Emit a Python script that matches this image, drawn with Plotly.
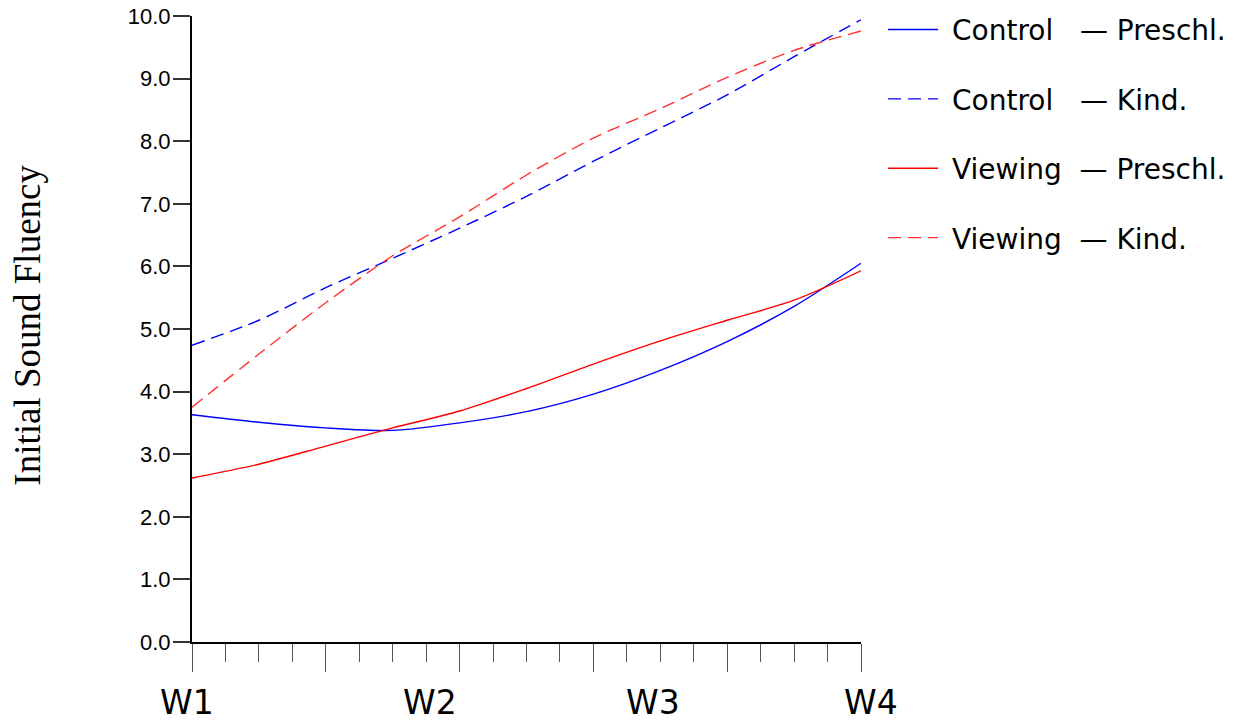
import plotly.graph_objects as go

# ---- data ----
weeks = [1.0, 1.3, 1.6, 1.9, 2.2, 2.5, 2.8, 3.1, 3.4, 3.7, 4.0]
control_preschl = [3.63, 3.51, 3.42, 3.38, 3.50, 3.68, 3.96, 4.34, 4.80, 5.36, 6.05]
control_kind = [4.74, 5.14, 5.66, 6.13, 6.61, 7.12, 7.68, 8.21, 8.74, 9.35, 9.94]
viewing_preschl = [2.62, 2.84, 3.13, 3.42, 3.69, 4.05, 4.44, 4.81, 5.14, 5.46, 5.93]
viewing_kind = [3.75, 4.60, 5.42, 6.17, 6.79, 7.46, 8.05, 8.52, 9.02, 9.45, 9.76]

# legend texts (dash aligned in a column, as in the reference)
NB = "\u00a0"
series_names = [
    NB + "Control" + NB * 3 + "\u2014" + NB + "Preschl.",
    NB + "Control" + NB * 3 + "\u2014" + NB + "Kind.",
    NB + "Viewing" + NB * 2 + "\u2014" + NB + "Preschl.",
    NB + "Viewing" + NB * 2 + "\u2014" + NB + "Kind.",
]
week_labels = ["W1", "W2", "W3", "W4"]
week_label_pos = [0.978, 2.069, 3.066, 4.045]
y_ticks = [0, 1, 2, 3, 4, 5, 6, 7, 8, 9, 10]
x_range = [1, 4]

series = [control_preschl, control_kind, viewing_preschl, viewing_kind]
colors = ["#0000ff", "#0000ff", "#ff0000", "#ff3030"]
dashes = ["solid", "13px,7px", "solid", "13px,7px"]

fig = go.Figure()
for i, (name, vals) in enumerate(zip(series_names, series)):
    fig.add_trace(go.Scatter(
        x=weeks, y=vals, name=name, mode="lines",
        line=dict(color=colors[i], width=1.4, dash=dashes[i], shape="spline", smoothing=0.8),
        legendgroup="g%d" % i,
    ))

for lab, pos in zip(week_labels, week_label_pos):
    fig.add_annotation(x=(pos - x_range[0]) / (x_range[1] - x_range[0]), y=-0.096,
                       xref="paper", yref="paper", text=lab,
                       showarrow=False, xanchor="center", yanchor="middle",
                       font=dict(family="DejaVu Sans", size=33, color="black"))

fig.add_annotation(x=-0.246, y=0.506, xref="paper", yref="paper",
                   text="Initial Sound Fluency", textangle=-90, showarrow=False,
                   xanchor="center", yanchor="middle",
                   font=dict(family="Liberation Serif", size=37, color="black"))

fig.update_layout(
    width=1235, height=723,
    margin=dict(l=192, r=374, t=16, b=81, autoexpand=False),
    paper_bgcolor="white", plot_bgcolor="white",
    showlegend=True,
    legend=dict(x=1.033, y=1.018, xanchor="left", yanchor="top",
                font=dict(family="DejaVu Sans", size=28, color="black"),
                tracegroupgap=30, bgcolor="rgba(0,0,0,0)", itemwidth=50),
    xaxis=dict(range=x_range, showgrid=False, zeroline=False, automargin=False,
               showline=True, linecolor="black", linewidth=2,
               ticks="outside", tick0=1, dtick=0.6, ticklen=28, tickwidth=1,
               tickcolor="#555555", showticklabels=False,
               minor=dict(ticks="outside", tick0=1, dtick=0.15, ticklen=18,
                          tickwidth=1, tickcolor="#555555")),
    yaxis=dict(range=[0, 10], showgrid=False, zeroline=False, automargin=False,
               showline=True, linecolor="black", linewidth=2,
               tickvals=y_ticks, tickformat=".1f", ticks="outside", ticklen=17,
               tickwidth=1.5, tickcolor="#333333", ticklabelstandoff=-2,
               ticklabeloverflow="allow",
               tickfont=dict(family="Liberation Sans", size=22, color="black")),
)

# remove the browser's default 8px page margin so the figure fills the window
fig.write_html("out.html",
               config={"displayModeBar": False},
               post_script="document.body.style.margin='0';document.body.style.overflow='hidden';")
